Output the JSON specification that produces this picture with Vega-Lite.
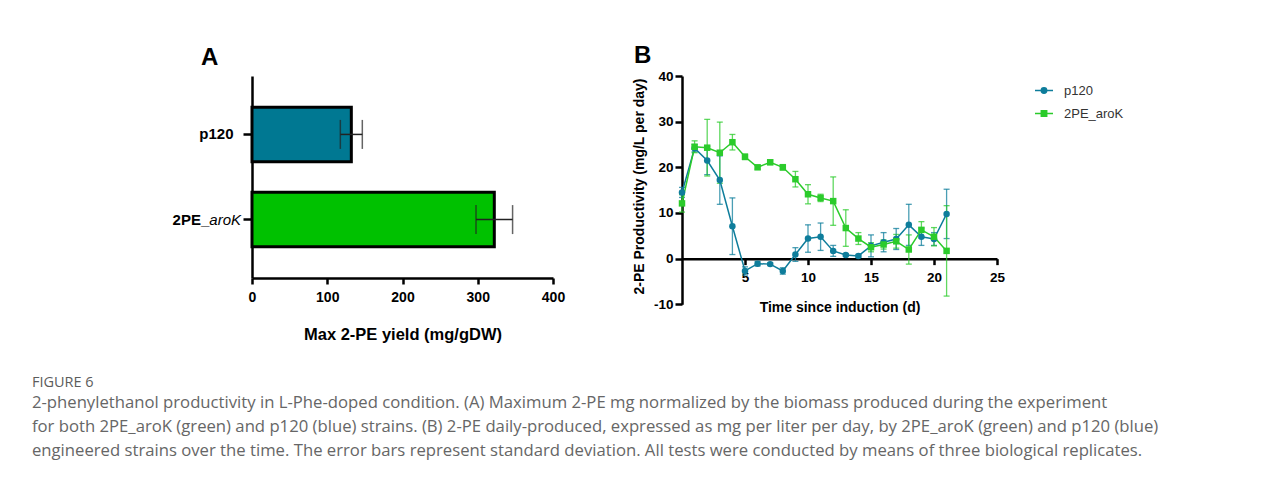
{
  "$schema": "https://vega.github.io/schema/vega-lite/v6.json",
  "padding": {"left": 31, "top": 44, "right": 0, "bottom": 0},
  "background": "white",
  "title": {
    "text": "FIGURE 6",
    "subtitle": [
      "2-phenylethanol productivity in L-Phe-doped condition. (A) Maximum 2-PE mg normalized by the biomass produced during the experiment",
      "for both 2PE_aroK (green) and p120 (blue) strains. (B) 2-PE daily-produced, expressed as mg per liter per day, by 2PE_aroK (green) and p120 (blue)",
      "engineered strains over the time. The error bars represent standard deviation. All tests were conducted by means of three biological replicates."
    ],
    "orient": "bottom",
    "anchor": "start",
    "frame": "bounds",
    "dx": -140.7,
    "offset": 33,
    "font": "Open Sans",
    "fontSize": 14.5,
    "fontWeight": "normal",
    "color": "#5c5c5c",
    "subtitleFont": "Open Sans",
    "subtitleFontSize": 16.7,
    "subtitleColor": "#666666",
    "subtitleLineHeight": 24.2,
    "subtitlePadding": 4
  },
  "spacing": 67,
  "resolve": {"scale": {"color": "independent", "x": "independent", "y": "independent"}, "legend": {"color": "independent"}},
  "hconcat": [
    {
      "width": 301,
      "height": 202,
      "title": {"text": "A", "anchor": "start", "frame": "group", "dx": -51, "fontSize": 24, "font": "Liberation Sans", "fontWeight": "bold", "color": "#000000", "offset": 6.5},
      "data": {"values": [
        {"strain": "p120", "yield": 132, "sd": 14.6},
        {"strain": "2PE_aroK", "yield": 322, "sd": 24.3}
      ]},
      "layer": [
        {
          "mark": {"type": "bar", "stroke": "#000000", "strokeWidth": 3},
          "encoding": {
            "y": {"field": "strain", "type": "nominal", "title": null,
              "scale": {"domain": ["p120", "2PE_aroK"], "paddingInner": 0.36, "paddingOuter": 0.366},
              "axis": {"labelExpr": "datum.value == 'p120' ? 'p120' : ''", "labelFontSize": 15, "tickSize": 9, "labelPadding": 10}},
            "x": {"field": "yield", "type": "quantitative", "title": "Max 2-PE yield (mg/gDW)",
              "scale": {"domain": [0, 400], "padding": 0},
              "axis": {"values": [0, 100, 200, 300, 400], "labelFlush": false, "titleFontSize": 16.5, "labelFontSize": 14, "tickSize": 6, "labelPadding": 6.5, "titlePadding": 22}},
            "color": {"field": "strain", "type": "nominal", "scale": {"domain": ["p120", "2PE_aroK"], "range": ["#007892", "#00c100"]}, "legend": null}
          }
        },
        {
          "mark": {"type": "errorbar", "ticks": {"size": 29}, "thickness": 1.5, "color": "#222222"},
          "encoding": {
            "y": {"field": "strain", "type": "nominal", "title": null},
            "x": {"field": "yield", "type": "quantitative", "title": "Max 2-PE yield (mg/gDW)"},
            "xError": {"field": "sd"}
          }
        },
        {
          "data": {"values": [{"strain": "2PE_aroK", "a": "2PE_", "b": "aroK"}]},
          "mark": {"type": "text", "align": "right", "baseline": "middle", "dx": -11, "fontStyle": "italic", "fontSize": 15, "font": "Liberation Sans", "color": "#000000"},
          "encoding": {
            "y": {"field": "strain", "type": "nominal", "title": null},
            "x": {"datum": 0},
            "text": {"field": "b"}
          }
        },
        {
          "data": {"values": [{"strain": "2PE_aroK", "a": "2PE_", "b": "aroK"}]},
          "mark": {"type": "text", "align": "right", "baseline": "middle", "dx": -42.7, "fontWeight": "bold", "fontSize": 15, "font": "Liberation Sans", "color": "#000000"},
          "encoding": {
            "y": {"field": "strain", "type": "nominal", "title": null},
            "x": {"datum": 0},
            "text": {"field": "a"}
          }
        }
      ]
    },
    {
      "width": 315,
      "height": 228.3,
      "title": {"text": "B", "anchor": "start", "frame": "group", "dx": -48, "dy": 8, "fontSize": 24, "font": "Liberation Sans", "fontWeight": "bold", "color": "#000000", "offset": 9},
      "data": {"values": [
        {"day": 0, "strain": "p120", "mean": 14.5, "sd": 1.1},
        {"day": 1, "strain": "p120", "mean": 24.2, "sd": 0.8},
        {"day": 2, "strain": "p120", "mean": 21.5, "sd": 3.1},
        {"day": 3, "strain": "p120", "mean": 17.2, "sd": 5.3},
        {"day": 4, "strain": "p120", "mean": 7.1, "sd": 6.2},
        {"day": 5, "strain": "p120", "mean": -2.7, "sd": 0.9},
        {"day": 6, "strain": "p120", "mean": -1.1, "sd": 0.5},
        {"day": 7, "strain": "p120", "mean": -1.2, "sd": 0.3},
        {"day": 8, "strain": "p120", "mean": -2.7, "sd": 0.7},
        {"day": 9, "strain": "p120", "mean": 0.9, "sd": 1.5},
        {"day": 10, "strain": "p120", "mean": 4.4, "sd": 3.0},
        {"day": 11, "strain": "p120", "mean": 4.8, "sd": 3.0},
        {"day": 12, "strain": "p120", "mean": 1.7, "sd": 1.2},
        {"day": 13, "strain": "p120", "mean": 0.8, "sd": 0.3},
        {"day": 14, "strain": "p120", "mean": 0.6, "sd": 0.3},
        {"day": 15, "strain": "p120", "mean": 2.8, "sd": 2.4},
        {"day": 16, "strain": "p120", "mean": 3.6, "sd": 2.1},
        {"day": 17, "strain": "p120", "mean": 4.3, "sd": 2.3},
        {"day": 18, "strain": "p120", "mean": 7.4, "sd": 4.5},
        {"day": 19, "strain": "p120", "mean": 4.8, "sd": 1.9},
        {"day": 20, "strain": "p120", "mean": 4.3, "sd": 1.4},
        {"day": 21, "strain": "p120", "mean": 9.8, "sd": 5.4},
        {"day": 0, "strain": "2PE_aroK", "mean": 12.1, "sd": 1.9},
        {"day": 1, "strain": "2PE_aroK", "mean": 24.5, "sd": 1.3},
        {"day": 2, "strain": "2PE_aroK", "mean": 24.3, "sd": 6.2},
        {"day": 3, "strain": "2PE_aroK", "mean": 23.2, "sd": 6.7},
        {"day": 4, "strain": "2PE_aroK", "mean": 25.5, "sd": 1.7},
        {"day": 5, "strain": "2PE_aroK", "mean": 22.3, "sd": 0.6},
        {"day": 6, "strain": "2PE_aroK", "mean": 20.0, "sd": 0.4},
        {"day": 7, "strain": "2PE_aroK", "mean": 21.1, "sd": 0.5},
        {"day": 8, "strain": "2PE_aroK", "mean": 20.0, "sd": 0.6},
        {"day": 9, "strain": "2PE_aroK", "mean": 17.4, "sd": 1.7},
        {"day": 10, "strain": "2PE_aroK", "mean": 14.1, "sd": 2.1},
        {"day": 11, "strain": "2PE_aroK", "mean": 13.3, "sd": 0.8},
        {"day": 12, "strain": "2PE_aroK", "mean": 12.6, "sd": 5.3},
        {"day": 13, "strain": "2PE_aroK", "mean": 6.7, "sd": 4.0},
        {"day": 14, "strain": "2PE_aroK", "mean": 4.4, "sd": 1.3},
        {"day": 15, "strain": "2PE_aroK", "mean": 2.5, "sd": 1.0},
        {"day": 16, "strain": "2PE_aroK", "mean": 3.1, "sd": 1.0},
        {"day": 17, "strain": "2PE_aroK", "mean": 3.8, "sd": 1.5},
        {"day": 18, "strain": "2PE_aroK", "mean": 2.0, "sd": 3.2},
        {"day": 19, "strain": "2PE_aroK", "mean": 6.3, "sd": 1.8},
        {"day": 20, "strain": "2PE_aroK", "mean": 4.8, "sd": 2.0},
        {"day": 21, "strain": "2PE_aroK", "mean": 1.7, "sd": 9.9}
      ]},
      "layer": [
        {
          "mark": {"type": "errorbar", "ticks": {"size": 6}, "thickness": 1.3, "opacity": 0.75},
          "encoding": {
            "x": {"field": "day", "type": "quantitative", "title": "Time since induction (d)"},
            "y": {"field": "mean", "type": "quantitative", "title": "2-PE Productivity  (mg/L per day)"},
            "yError": {"field": "sd"},
            "color": {"field": "strain", "type": "nominal"}
          }
        },
        {
          "mark": {"type": "line", "strokeWidth": 1.5},
          "encoding": {
            "x": {"field": "day", "type": "quantitative", "title": "Time since induction (d)",
              "scale": {"domain": [0, 25], "padding": 0, "nice": false},
              "axis": {"values": [5, 10, 15, 20, 25], "labelFlush": false, "offset": -45.66, "labelFontSize": 13.5, "tickSize": 6, "labelPadding": 6, "titleFontSize": 14, "titlePadding": 16}},
            "y": {"field": "mean", "type": "quantitative", "title": "2-PE Productivity  (mg/L per day)",
              "scale": {"domain": [-10, 40], "nice": false, "zero": false, "padding": 0},
              "axis": {"values": [-10, 0, 10, 20, 30, 40], "labelExpr": "'' + datum.value", "labelFontSize": 13.5, "tickSize": 7, "labelPadding": 2, "titleFontSize": 14, "titlePadding": 6.5, "titleY": 110}},
            "color": {"field": "strain", "type": "nominal",
              "scale": {"domain": ["p120", "2PE_aroK"], "range": ["#0e7d9b", "#2bcb2b"]},
              "legend": {"orient": "none", "legendX": 352, "legendY": 4.5, "title": null, "padding": 0,
                "symbolSize": 324, "symbolStrokeWidth": 1.5, "labelFontSize": 13, "labelColor": "#333333",
                "labelFont": "Liberation Sans", "labelFontWeight": "normal", "labelOffset": 10, "rowPadding": 6,
                "encode": {"symbols": {"update": {
                  "shape": {"signal": "datum.value === 'p120' ? 'M-1,0L1,0M-0.3,0A0.3,0.3,0,1,1,0.3,0A0.3,0.3,0,1,1,-0.3,0Z' : 'M-1,0L1,0M-0.3,-0.3L0.3,-0.3L0.3,0.3L-0.3,0.3Z'"},
                  "fill": {"signal": "datum.value === 'p120' ? '#0e7d9b' : '#2bcb2b'"},
                  "fillOpacity": {"value": 1}
                }}}}
            }
          }
        },
        {
          "mark": {"type": "point", "filled": true, "opacity": 1, "size": 42},
          "encoding": {
            "x": {"field": "day", "type": "quantitative", "title": "Time since induction (d)"},
            "y": {"field": "mean", "type": "quantitative", "title": "2-PE Productivity  (mg/L per day)"},
            "color": {"field": "strain", "type": "nominal"},
            "shape": {"field": "strain", "type": "nominal", "scale": {"domain": ["p120", "2PE_aroK"], "range": ["circle", "square"]}, "legend": null}
          }
        }
      ]
    }
  ],
  "config": {
    "view": {"stroke": null},
    "axis": {
      "grid": false,
      "domainColor": "#000000",
      "tickColor": "#000000",
      "labelColor": "#000000",
      "titleColor": "#000000",
      "labelFont": "Liberation Sans",
      "titleFont": "Liberation Sans",
      "labelFontWeight": "bold",
      "titleFontWeight": "bold",
      "domainWidth": 2.5,
      "tickWidth": 2.5
    }
  }
}
